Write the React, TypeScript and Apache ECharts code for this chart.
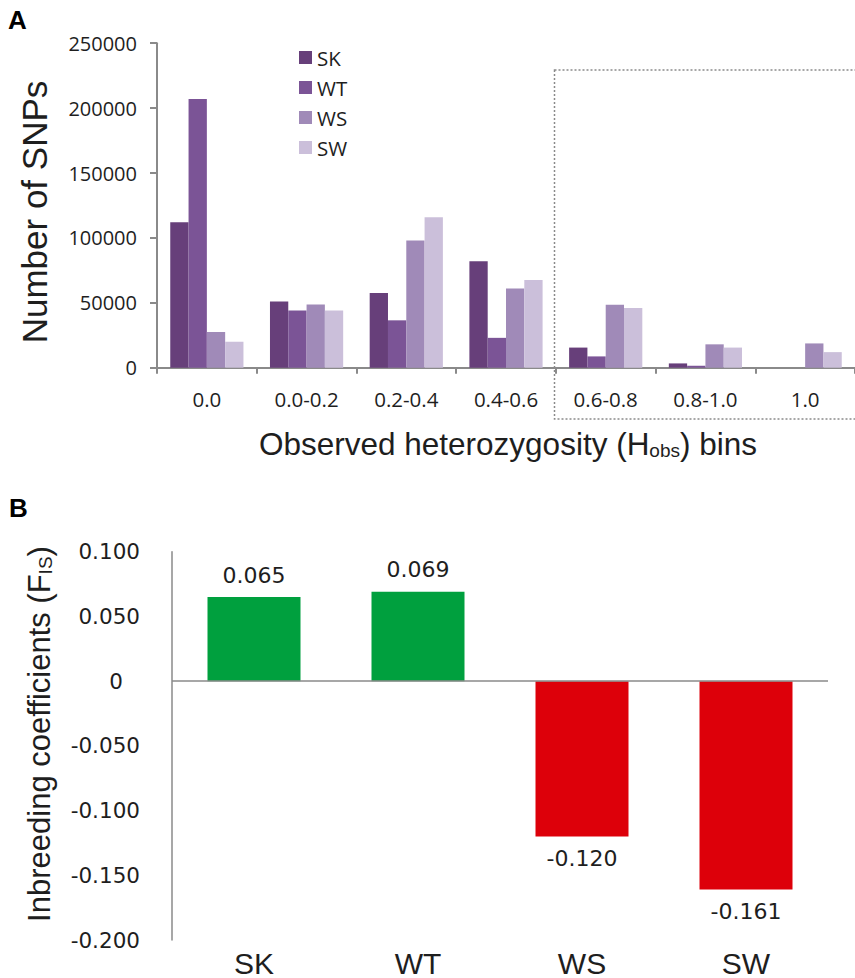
import React, { useEffect, useRef } from "react";
import * as echarts from "echarts";

const binLabels = ["0.0", "0.0-0.2", "0.2-0.4", "0.4-0.6", "0.6-0.8", "0.8-1.0", "1.0"];
const seriesNames = ["SK", "WT", "WS", "SW"];
const skCounts = [112000, 51000, 57500, 82000, 15500, 3300, 0];
const wtCounts = [207000, 44000, 36500, 23000, 8700, 1500, 0];
const wsCounts = [27500, 48700, 98000, 61000, 48500, 18000, 18700];
const swCounts = [20000, 44000, 116000, 67500, 46000, 15500, 12000];
const countTicks = { min: 0, max: 250000, interval: 50000 };

const populations = ["SK", "WT", "WS", "SW"];
const fisValues = [0.065, 0.069, -0.12, -0.161];
const fisTicks = { min: -0.2, max: 0.1, interval: 0.05 };

const purple = ["#673f7a", "#7b5496", "#a08ab8", "#cbbfda"];
const AXIS = "#8a8a8a";
const TXT = "#1e1e1e";

export default function App() {
  const ref = useRef<HTMLDivElement>(null);
  useEffect(() => {
    if (!ref.current) return;
    const chart = echarts.init(ref.current, null, { renderer: "svg" });
    const countSeries = [skCounts, wtCounts, wsCounts, swCounts].map((vals, i) => ({
      name: seriesNames[i],
      type: "bar",
      xAxisIndex: 0,
      yAxisIndex: 0,
      barWidth: 18.3,
      barGap: "0%",
      itemStyle: { color: purple[i] },
      data: vals,
    }));
    const fisData = fisValues.map((v) => ({
      value: v,
      itemStyle: { color: v >= 0 ? "#00a03e" : "#dd000a" },
      label: { position: v >= 0 ? "top" : "bottom" },
    }));
    const option: any = {
      animation: false,
      backgroundColor: "#ffffff",
      legend: {
        orient: "vertical",
        left: 294,
        top: 42,
        itemWidth: 13,
        itemHeight: 13,
        itemGap: 9,
        icon: "rect",
        data: seriesNames,
        textStyle: { fontFamily: "Open Sans", fontSize: 20.5, color: TXT },
      },
      grid: [
        { left: 157, top: 43.2, width: 698, height: 324.5 },
        { left: 172, top: 551.7, width: 656, height: 390 },
      ],
      xAxis: [
        {
          type: "category",
          gridIndex: 0,
          data: binLabels,
          axisLine: { lineStyle: { color: AXIS, width: 2 } },
          axisTick: { show: true, length: 6, lineStyle: { color: AXIS, width: 2 } },
          axisLabel: { margin: 21, fontFamily: "Open Sans", fontSize: 20.5, color: TXT },
        },
        {
          type: "category",
          gridIndex: 1,
          data: populations,
          axisLine: { show: false, onZero: false },
          axisTick: { show: false },
          axisLabel: { margin: 8, fontFamily: "Liberation Sans", fontSize: 30, color: TXT },
        },
      ],
      yAxis: [
        {
          type: "value",
          gridIndex: 0,
          min: countTicks.min,
          max: countTicks.max,
          interval: countTicks.interval,
          splitLine: { show: false },
          axisLine: { show: true, lineStyle: { color: AXIS, width: 2 } },
          axisTick: { show: true, length: 7, lineStyle: { color: AXIS, width: 2 } },
          axisLabel: {
            margin: 20,
            fontFamily: "Open Sans",
            fontSize: 20,
            color: TXT,
            formatter: (v: number) => String(v),
          },
        },
        {
          type: "value",
          gridIndex: 1,
          min: fisTicks.min,
          max: fisTicks.max,
          interval: fisTicks.interval,
          splitLine: { show: false },
          axisLine: { show: true, lineStyle: { color: AXIS, width: 1.5 } },
          axisTick: { show: false },
          axisLabel: {
            margin: 32,
            fontFamily: "DejaVu Sans",
            fontSize: 21.5,
            color: TXT,
            formatter: (v: number) => (Math.abs(v) < 1e-9 ? "{z|0}" : v.toFixed(3)),
            rich: {
              z: { fontFamily: "DejaVu Sans", fontSize: 21.5, color: TXT, padding: [0, 17, 0, 0] },
            },
          },
        },
      ],
      series: [
        ...countSeries,
        {
          name: "FIS",
          type: "bar",
          xAxisIndex: 1,
          yAxisIndex: 1,
          barWidth: 93,
          data: fisData,
          label: {
            show: true,
            distance: 11,
            fontFamily: "DejaVu Sans",
            fontSize: 22,
            color: TXT,
            formatter: (p: any) => Number(p.value).toFixed(3),
          },
          markLine: {
            silent: true,
            symbol: "none",
            label: { show: false },
            lineStyle: { color: AXIS, type: "solid", width: 1.5 },
            data: [{ yAxis: 0 }],
          },
        },
      ],
      graphic: [
        {
          type: "text",
          left: 8,
          top: 7,
          style: { text: "A", fontFamily: "Liberation Sans", fontWeight: "bold", fontSize: 26, fill: "#000" },
        },
        {
          type: "text",
          left: 9,
          top: 495,
          style: { text: "B", fontFamily: "Liberation Sans", fontWeight: "bold", fontSize: 26, fill: "#000" },
        },
        {
          type: "rect",
          shape: { x: 554.5, y: 70, width: 330, height: 349 },
          style: { fill: "none", stroke: "#8a8a8a", lineWidth: 1.5, lineDash: [2, 2] },
          z: 10,
        },
        {
          type: "text",
          x: 34,
          y: 212,
          rotation: Math.PI / 2,
          style: {
            text: "Number of SNPs",
            fontFamily: "Liberation Sans",
            fontSize: 35,
            fill: TXT,
            align: "center",
            verticalAlign: "middle",
          },
        },
        {
          type: "text",
          x: 508,
          y: 444,
          style: {
            text: "Observed heterozygosity (H{sub|obs}) bins",
            fontFamily: "Liberation Sans",
            fontSize: 31.5,
            fill: TXT,
            align: "center",
            verticalAlign: "middle",
            rich: {
              sub: { fontFamily: "Liberation Sans", fontSize: 19, fill: TXT, verticalAlign: "bottom" },
            },
          },
        },
        {
          type: "text",
          x: 39,
          y: 734,
          rotation: Math.PI / 2,
          style: {
            text: "Inbreeding coefficients (F{sub|IS})",
            fontFamily: "Liberation Sans",
            fontSize: 31,
            fill: TXT,
            align: "center",
            verticalAlign: "middle",
            rich: {
              sub: { fontFamily: "Liberation Sans", fontSize: 19, fill: TXT, verticalAlign: "bottom" },
            },
          },
        },
      ],
    };
    chart.setOption(option);
    return () => chart.dispose();
  }, []);
  return (
    <div
      ref={ref}
      style={{ position: "absolute", left: 0, top: 0, width: 855, height: 978 }}
    />
  );
}
